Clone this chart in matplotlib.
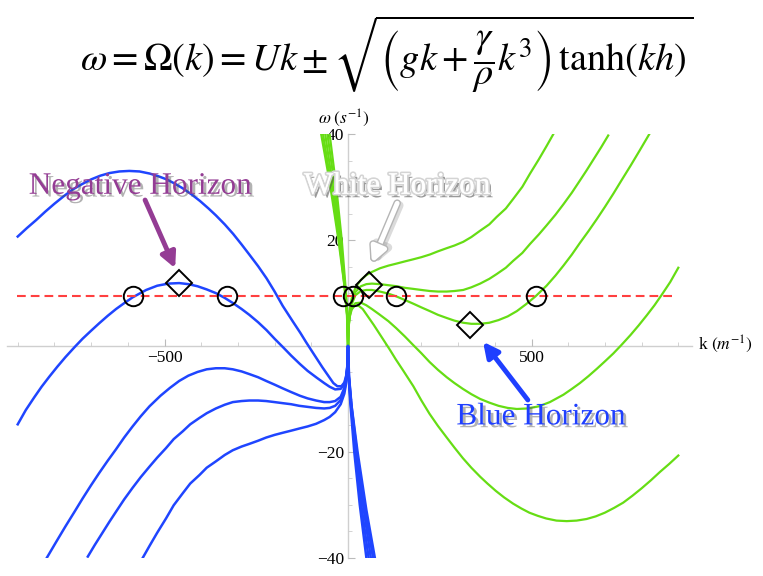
import matplotlib
matplotlib.use("Agg")
import matplotlib.pyplot as plt
import matplotlib.patheffects as pe

plt.rcParams['font.family'] = ['Liberation Serif', 'DejaVu Serif']
plt.rcParams['mathtext.fontset'] = 'stix'

# dispersion branches (k in 1/m, omega in 1/s)
# green (+ branch): g1 = top curve on the right ... g5 = bottom one
g1_k = [-73, -50, -26, -10, -3, 0, 2, 5, 10, 20, 35, 50, 65, 87, 110, 133, 155, 178, 200, 223,
        245, 269, 290, 314, 336, 360, 385, 405, 430, 450, 475, 496, 520, 541, 559]
g1_w = [40, 31, 20, 11.5, 6, 0, 4.6, 7.0, 9.0, 11.0, 12.5, 13.4, 14.0, 14.7, 15.2, 15.6, 16.0, 16.4, 16.8, 17.3,
        17.9, 18.5, 19.0, 19.7, 20.6, 21.8, 23.0, 24.4, 26.0, 27.8, 30.1, 32.6, 35.3, 37.8, 40]

g2_k = [-68, -46, -24, -9, -2.5, 0, 2, 5, 10, 20, 35, 50, 65, 87, 110, 133, 155, 178, 200, 223,
        245, 269, 290, 314, 336, 360, 385, 405, 430, 450, 475, 496, 520, 541, 565, 587, 610, 632, 650, 670,
        690, 709]
g2_w = [40, 30.5, 20, 11, 5.8, 0, 4.4, 6.6, 8.4, 10.2, 11.3, 11.7, 11.8, 11.7, 11.5, 11.3, 11.0, 10.8, 10.6, 10.4,
        10.3, 10.3, 10.4, 10.6, 11.1, 11.8, 12.7, 13.6, 14.8, 16.1, 17.6, 19.3, 21.1, 22.8, 24.8, 26.8, 29.0, 31.3, 33.2, 35.4,
        37.6, 39.8]

g3_k = [-62, -41, -22, -8, -2, 0, 2, 5, 10, 20, 35, 50, 65, 87, 110, 131, 155, 178, 200, 223,
        245, 269, 290, 314, 336, 360, 385, 410, 435, 460, 485, 511, 541, 565, 587, 610, 632, 655, 678, 700,
        723, 745, 770, 795, 823]
g3_w = [40, 30, 20, 10.8, 5.5, 0, 4.2, 6.2, 7.9, 9.6, 10.4, 10.6, 10.6, 10.3, 9.9, 9.4, 8.7, 8.0, 7.3, 6.6,
        5.9, 5.3, 4.8, 4.4, 4.2, 4.2, 4.4, 4.9, 5.6, 6.6, 7.9, 9.4, 11.4, 13.3, 15.2, 17.3, 19.5, 21.7, 24.0, 26.3,
        28.8, 31.3, 34.1, 37.0, 40.3]

g4_k = [-56, -36, -20, -7, -2, 0, 2, 5, 10, 20, 35, 50, 65, 85, 110, 131, 155, 176, 199, 222,
        245, 269, 290, 313, 336, 360, 385, 410, 435, 460, 490, 520, 550, 587, 610, 632, 655, 678, 700, 723,
        745, 770, 792, 814, 835, 855, 878, 900]
g4_w = [40, 30, 20, 10.5, 5.8, 0, 4.0, 5.8, 7.2, 8.1, 8.2, 7.7, 7.0, 6.0, 4.7, 3.4, 1.8, 0.3, -1.3, -3.0,
        -4.5, -5.9, -7.0, -8.1, -9.1, -10.0, -10.7, -11.3, -11.7, -11.9, -11.8, -11.4, -10.6, -9.2, -8.1, -7.0, -5.7, -4.3, -2.9, -1.4,
        0.2, 2.1, 3.9, 5.8, 7.7, 9.7, 12.1, 14.8]

g5_k = [-50, -32, -17, -6, -1.5, 0, 2, 5, 10, 18, 29, 40, 55, 70, 85, 100, 114, 130, 150, 178,
        200, 222, 245, 269, 290, 313, 336, 360, 380, 403, 425, 450, 472, 494, 517, 540, 568, 596, 623, 650,
        675, 700, 725, 750, 775, 800, 825, 850, 875, 900]
g5_w = [40, 30, 20, 10.5, 5.5, 0, 3.8, 5.6, 6.9, 7.6, 7.6, 7.0, 5.5, 4.0, 2.4, 0.8, -0.7, -2.5, -4.6, -7.6,
        -10.3, -12.8, -15.1, -17.3, -19.2, -21.2, -23.0, -24.7, -26.0, -27.4, -28.6, -29.8, -30.7, -31.5, -32.1, -32.6, -33.0, -33.1, -33.0, -32.7,
        -32.2, -31.5, -30.6, -29.6, -28.3, -26.9, -25.4, -23.8, -22.3, -20.7]

# blue (- branch): b1 = top curve on the left ... b5 = bottom one
b1_k = [-900, -875, -850, -825, -800, -775, -750, -725, -700, -675, -650, -623, -596, -568, -540, -517, -494, -472, -450, -425,
        -403, -380, -360, -336, -313, -290, -269, -245, -222, -200, -178, -150, -130, -114, -100, -85, -70, -55, -40, -29,
        -18, -10, -5, -2, 0, 1.5, 6, 17, 32, 50]
b1_w = [20.7, 22.3, 23.8, 25.4, 26.9, 28.3, 29.6, 30.6, 31.5, 32.2, 32.7, 33.0, 33.1, 33.0, 32.6, 32.1, 31.5, 30.7, 29.8, 28.6,
        27.4, 26.0, 24.7, 23.0, 21.2, 19.2, 17.3, 15.1, 12.8, 10.3, 7.6, 4.6, 2.5, 0.7, -0.8, -2.4, -4.0, -5.5, -7.0, -7.6,
        -7.6, -6.9, -5.6, -3.8, 0, -5.5, -10.5, -20, -30, -40]

b2_k = [-900, -878, -855, -835, -814, -792, -770, -745, -723, -700, -678, -655, -632, -610, -587, -550, -520, -490, -460, -435,
        -410, -385, -360, -336, -313, -290, -269, -245, -222, -199, -176, -155, -131, -110, -85, -65, -50, -35, -20, -10,
        -5, -2, 0, 2, 7, 20, 36, 56]
b2_w = [-14.8, -12.1, -9.7, -7.7, -5.8, -3.9, -2.1, -0.2, 1.4, 2.9, 4.3, 5.7, 7.0, 8.1, 9.2, 10.6, 11.4, 11.8, 11.9, 11.7,
        11.3, 10.7, 10.0, 9.1, 8.1, 7.0, 5.9, 4.5, 3.0, 1.3, -0.3, -1.8, -3.4, -4.7, -6.0, -7.0, -7.7, -8.2, -8.1, -7.2,
        -5.8, -4.0, 0, -5.8, -10.5, -20, -30, -40]

b3_k = [-823, -795, -770, -745, -723, -700, -678, -655, -632, -610, -587, -565, -541, -511, -485, -460, -435, -410, -385, -360,
        -336, -314, -290, -269, -245, -223, -200, -178, -155, -131, -110, -87, -65, -50, -35, -20, -10, -5, -2, 0,
        2, 8, 22, 41, 62]
b3_w = [-40.3, -37.0, -34.1, -31.3, -28.8, -26.3, -24.0, -21.7, -19.5, -17.3, -15.2, -13.3, -11.4, -9.4, -7.9, -6.6, -5.6, -4.9, -4.4, -4.2,
        -4.2, -4.4, -4.8, -5.3, -5.9, -6.6, -7.3, -8.0, -8.7, -9.4, -9.9, -10.3, -10.6, -10.6, -10.4, -9.6, -7.9, -6.2, -4.2, 0,
        -5.5, -10.8, -20, -30, -40]

b4_k = [-709, -690, -670, -650, -632, -610, -587, -565, -541, -520, -496, -475, -450, -430, -405, -385, -360, -336, -314, -290,
        -269, -245, -223, -200, -178, -155, -133, -110, -87, -65, -50, -35, -20, -10, -5, -2, 0, 2.5, 9, 24,
        46, 68]
b4_w = [-39.8, -37.6, -35.4, -33.2, -31.3, -29.0, -26.8, -24.8, -22.8, -21.1, -19.3, -17.6, -16.1, -14.8, -13.6, -12.7, -11.8, -11.1, -10.6, -10.4,
        -10.3, -10.3, -10.4, -10.6, -10.8, -11.0, -11.3, -11.5, -11.7, -11.8, -11.7, -11.3, -10.2, -8.4, -6.6, -4.4, 0, -5.8, -11, -20,
        -30.5, -40]

b5_k = [-559, -541, -520, -496, -475, -450, -430, -405, -385, -360, -336, -314, -290, -269, -245, -223, -200, -178, -155, -133,
        -110, -87, -65, -50, -35, -20, -10, -5, -2, 0, 3, 10, 26, 50, 73]
b5_w = [-40, -37.8, -35.3, -32.6, -30.1, -27.8, -26.0, -24.4, -23.0, -21.8, -20.6, -19.7, -19.0, -18.5, -17.9, -17.3, -16.8, -16.4, -16.0, -15.6,
        -15.2, -14.7, -14.0, -13.4, -12.5, -11.0, -9.0, -7.0, -4.6, 0, -6, -11.5, -20, -31, -40]

red_level = 9.4
red_k = [-903, 890]
circle_k = [-587, -331, -13, 14, 131, 511]
diamond_k = [-460, 58, 332]
diamond_w = [11.9, 11.6, 4.0]

green = '#66dd14'
blue = '#1f45ff'
purple = '#943c94'

fig = plt.figure(figsize=(7.63, 5.76), dpi=100)
ax = fig.add_axes([0.0088, 0.0319, 0.898, 0.7347])
ax.set_xlim(-930, 937)
ax.set_ylim(-40, 40)

for kk, ww in [(g1_k, g1_w), (g2_k, g2_w), (g3_k, g3_w), (g4_k, g4_w), (g5_k, g5_w)]:
    ax.plot(kk, ww, color=green, lw=1.6, solid_joinstyle='round', zorder=3)
for kk, ww in [(b1_k, b1_w), (b2_k, b2_w), (b3_k, b3_w), (b4_k, b4_w), (b5_k, b5_w)]:
    ax.plot(kk, ww, color=blue, lw=1.8, solid_joinstyle='round', zorder=3)

ax.plot(red_k, [red_level, red_level], color='#ff4040', lw=1.5, ls=(0, (4.2, 2.4)), zorder=4)
ax.plot(circle_k, [red_level] * len(circle_k), 'o', ms=14, mfc='none', mec='black', mew=1.4, zorder=5)
ax.plot(diamond_k, diamond_w, 'D', ms=13, mfc='none', mec='black', mew=1.4, zorder=5)

# axes through the origin, Mathematica style
for s in ['top', 'right']:
    ax.spines[s].set_visible(False)
ax.spines['left'].set_position(('data', 0))
ax.spines['bottom'].set_position(('data', 0))
for s in ['left', 'bottom']:
    ax.spines[s].set_color('#cfcfcf')
    ax.spines[s].set_linewidth(1.0)
    ax.spines[s].set_zorder(1)
ax.set_xticks([-500, 500])
ax.set_xticklabels(['\u2212500', '500'])
ax.set_xticks([v for v in range(-900, 1000, 100) if v not in (0, -500, 500)], minor=True)
ax.set_yticks([-40, -20, 20, 40])
ax.set_yticklabels(['\u221240', '\u221220', '20', '40'])
ax.set_yticks([v for v in range(-35, 40, 5) if v % 20 != 0], minor=True)
ax.tick_params(which='major', direction='in', length=5, color='#bbbbbb', labelsize=12.5, pad=3)
ax.tick_params(which='minor', direction='in', length=3, color='#cccccc')

ax.text(-83, 43.1, r'$\omega\;(s^{-1})$', fontsize=12.5, ha='left', va='center')
ax.text(955, 0.3, r'k $(m^{-1})$', fontsize=12.5, ha='left', va='center')

fig.text(0.506, 0.905,
         r'$\omega = \Omega(k) = Uk \pm \sqrt{\left(gk + \dfrac{\gamma}{\rho}k^3\right)\,\tanh(kh)}$',
         fontsize=27.5, ha='center', va='center')

shadow = [pe.SimplePatchShadow(offset=(2, -2), shadow_rgbFace='#555555', alpha=0.45), pe.Normal()]
ax.text(-566, 30.2, 'Negative Horizon', color=purple, fontsize=22.5, ha='center', va='center',
        path_effects=shadow, zorder=6)
ax.text(134, 30.2, 'White Horizon', color='white', fontsize=22.5, ha='center', va='center',
        path_effects=[pe.SimplePatchShadow(offset=(2, -2.5), shadow_rgbFace='#555555', alpha=0.6),
                      pe.withStroke(linewidth=2.5, foreground='#d4d4d4'), pe.Normal()], zorder=6)
ax.text(526, -13.4, 'Blue Horizon', color='#1f3fff', fontsize=22.5, ha='center', va='center',
        path_effects=shadow, zorder=6)

head = '-|>,head_length=0.9,head_width=0.45'
ax.annotate('', xy=(-471, 14.7), xytext=(-553, 27.6),
            arrowprops=dict(arrowstyle=head, lw=3.5, color=purple, shrinkA=0, shrinkB=0), zorder=6)
# white arrow: a soft grey copy underneath works as its shadow
ax.annotate('', xy=(70, 15.3), xytext=(140, 26.6),
            arrowprops=dict(arrowstyle=head, lw=6, color='#888888', alpha=0.3, shrinkA=0, shrinkB=0), zorder=6)
ax.annotate('', xy=(65, 15.7), xytext=(134, 27.0),
            arrowprops=dict(arrowstyle=head, lw=3.5, color='white', shrinkA=0, shrinkB=0,
                            path_effects=[pe.withStroke(linewidth=5.5, foreground='#b5b5b5')]), zorder=6)
ax.annotate('', xy=(368, 0.8), xytext=(490, -10.2),
            arrowprops=dict(arrowstyle=head, lw=3.5, color='#1f3fff', shrinkA=0, shrinkB=0), zorder=6)

fig.savefig('out.png', dpi=100)
